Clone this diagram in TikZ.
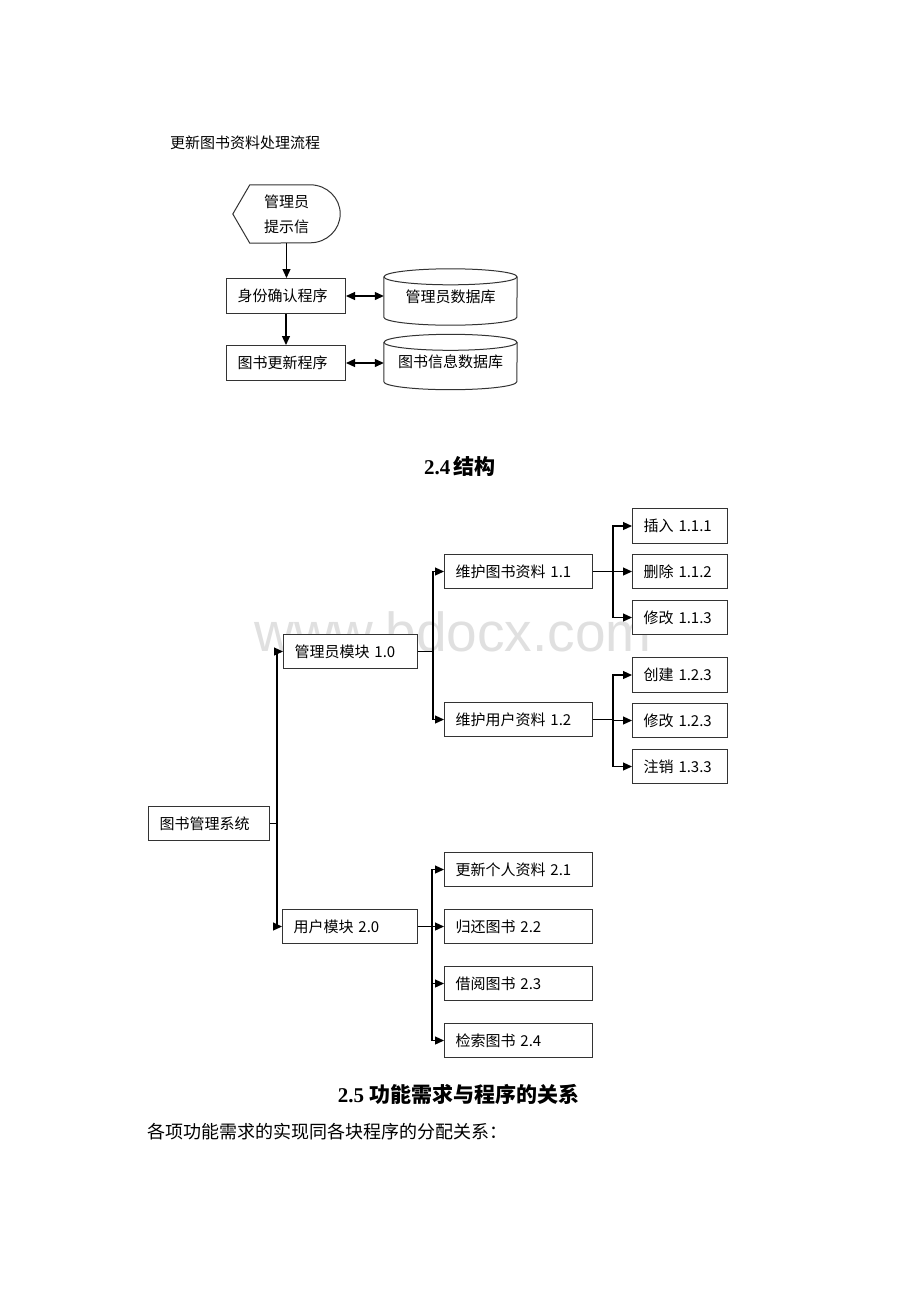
\documentclass[tikz,border=0pt]{standalone}
\usepackage{fontspec}
\setmainfont{Noto Sans CJK SC}
\newfontfamily\timesfont{Liberation Serif}
\newfontfamily\markfont{Liberation Sans}
\usetikzlibrary{arrows.meta,calc}

\tikzset{
	box/.style={draw=black!80, line width=1pt, fill=white, anchor=north west, minimum height=34pt, inner xsep=11pt, inner ysep=0pt, text width=#1, align=left, font=\fontsize{15}{18}\selectfont},
	link/.style={line width=1.2pt, ->},
	>={Triangle[length=9pt,width=8pt]}
}

\begin{document}
\begin{tikzpicture}[x=1pt,y=-1pt]
	\useasboundingbox (0,0) rectangle (920,1302);
	\fill[white] (0,0) rectangle (920,1302);
	%watermark
	\node[text=black!12, font=\markfont\fontsize{55}{60}\selectfont, inner sep=0] (mark) at (453,632) {www.bdocx.com};

	%flow chart
	\node[anchor=west, font=\fontsize{15}{18}\selectfont, inner sep=0] (title) at (170,143) {更新图书资料处理流程};
	\node[minimum width=107pt, minimum height=58pt, inner sep=0, align=center, font=\fontsize{15}{25}\selectfont] (msg) at (286.5,214) {管理员\\提示信};
	\draw[line width=1pt, black!80] (msg.west) -- ([xshift=17pt]msg.north west) -- ([xshift=-30pt]msg.north east) arc[start angle=90, end angle=-90, x radius=30pt, y radius=29pt] -- ([xshift=17pt]msg.south west) -- cycle;
	\node[box=97pt, minimum height=35pt] (idcheck) at (226,278) {身份确认程序};
	\node[box=97pt, minimum height=35pt] (bookupd) at (226,345) {图书更新程序};
	\node[minimum width=133pt, minimum height=56pt, inner sep=0, font=\fontsize{15}{18}\selectfont] (admdb) at (450.5,297) {管理员数据库};
	\node[minimum width=133pt, minimum height=55pt, inner sep=0, font=\fontsize{15}{18}\selectfont] (bookdb) at (450.5,362) {图书信息数据库};
	\foreach \n in {admdb,bookdb}{
		\draw[line width=1pt, black!80] ($(\n.north)+(0,8)$) ellipse [x radius=66.5pt, y radius=8pt];
		\draw[line width=1pt, black!80] ($(\n.north west)+(0,8)$) -- ($(\n.south west)+(0,-8)$) arc[start angle=180, end angle=360, x radius=66.5pt, y radius=8pt] -- ($(\n.north east)+(0,8)$);
	}
	\draw[link] (msg.south) -- (msg.south |- idcheck.north);
	\draw[link] (idcheck.south) -- (bookupd.north);
	\draw[link, <->] (idcheck.east) -- (idcheck.east -| admdb.west);
	\draw[link, <->] (bookupd.east) -- (bookupd.east -| bookdb.west);

	%2.4
	\node[font=\fontsize{21}{25}\selectfont\bfseries] (head24) at (460,466) {{\timesfont 2.4}\,结构};

	\node[box=99pt] (sys) at (148,806) {图书管理系统};
	\node[box=112pt] (adm) at (283,634) {管理员模块 1.0};
	\node[box=113pt] (usr) at (282,909) {用户模块 2.0};
	\node[box=126pt] (bookinfo) at (444,554) {维护图书资料 1.1};
	\node[box=126pt] (userinfo) at (444,702) {维护用户资料 1.2};
	\node[box=73pt, minimum height=35pt] (insert) at (632,508) {插入 1.1.1};
	\node[box=73pt] (delete) at (632,554) {删除 1.1.2};
	\node[box=73pt] (modbook) at (632,600) {修改 1.1.3};
	\node[box=73pt, minimum height=35pt] (create) at (632,657) {创建 1.2.3};
	\node[box=73pt] (moduser) at (632,703) {修改 1.2.3};
	\node[box=73pt] (cancel) at (632,749) {注销 1.3.3};
	\node[box=126pt] (selfupd) at (444,852) {更新个人资料 2.1};
	\node[box=126pt] (giveback) at (444,909) {归还图书 2.2};
	\node[box=126pt] (borrow) at (444,966) {借阅图书 2.3};
	\node[box=126pt] (search) at (444,1023) {检索图书 2.4};

	\draw[line width=1.2pt] (sys.east) -- ++(7,0) coordinate (j0);
	\draw[link] (j0) |- (adm.west);
	\draw[link] (j0) |- (usr.west);
	\draw[line width=1.2pt] (adm.east) -- ++(15,0) coordinate (j1);
	\draw[link] (j1) |- (bookinfo.west);
	\draw[link] (j1) |- (userinfo.west);
	\draw[line width=1.2pt] (bookinfo.east) -- ++(20,0) coordinate (j2);
	\foreach \n in {insert,delete,modbook}
		\draw[link] (j2) |- (\n.west);
	\draw[line width=1.2pt] (userinfo.east) -- ++(20,0) coordinate (j3);
	\foreach \n in {create,moduser,cancel}
		\draw[link] (j3) |- (\n.west);
	\draw[line width=1.2pt] (usr.east) -- ++(14,0) coordinate (j4);
	\foreach \n in {selfupd,giveback,borrow,search}
		\draw[link] (j4) |- (\n.west);

	%2.5
	\node[font=\fontsize{21}{25}\selectfont\bfseries] (head25) at (458.5,1094) {{\timesfont 2.5} 功能需求与程序的关系};
	\node[anchor=west, inner sep=0, font=\fontsize{18}{22}\selectfont] (intro) at (147,1132) {各项功能需求的实现同各块程序的分配关系：};
\end{tikzpicture}
\end{document}
